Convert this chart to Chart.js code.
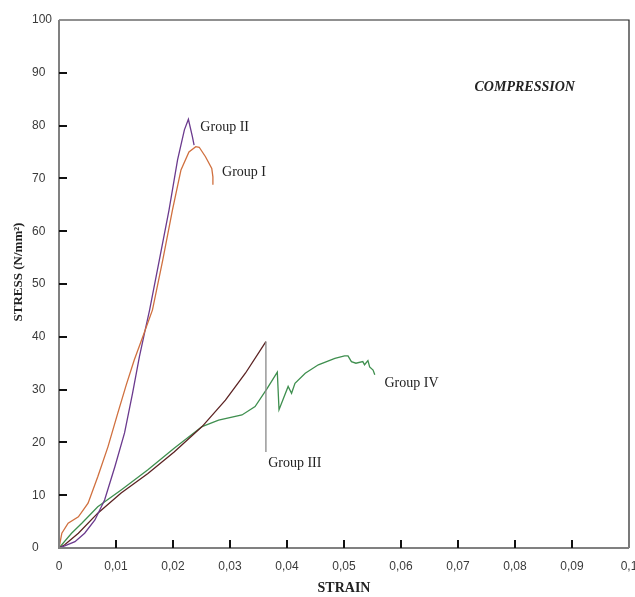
<!DOCTYPE html>
<html>
<head>
<meta charset="utf-8">
<script src="https://cdn.jsdelivr.net/npm/chart.js@4.4.0/dist/chart.umd.min.js"></script>
<style>
  html, body { margin: 0; padding: 0; background: #fff; }
  #wrap { width: 635px; height: 597px; }
</style>
</head>
<body>
<div id="wrap"><canvas id="chart"></canvas></div>
<script>
// values
const strainI  = [0, 0.0005, 0.0016, 0.0034, 0.0051, 0.0068, 0.0086, 0.0103, 0.0118, 0.0132, 0.0147, 0.0164, 0.0182, 0.0199, 0.0214, 0.0228, 0.0240, 0.0246, 0.0257, 0.0268, 0.0270, 0.0270];
const stressI  = [0, 2.8, 4.7, 5.9, 8.5, 13.5, 19.2, 25.5, 30.9, 35.6, 40, 45.1, 54.5, 64, 71.6, 75, 76, 75.9, 74.1, 71.9, 70.3, 68.8];

const strainII = [0, 0.001, 0.0028, 0.0045, 0.0063, 0.008, 0.0098, 0.0115, 0.0129, 0.0141, 0.015, 0.0159, 0.0176, 0.0193, 0.0208, 0.022, 0.0227, 0.0234, 0.0237];
const stressII = [0, 0.4, 1.2, 2.8, 5.3, 9.1, 15.4, 21.8, 29.3, 36.2, 40.7, 45.1, 54.5, 64, 73.5, 79.2, 81.2, 77.9, 76.3];

const strainIII = [0, 0.001, 0.0034, 0.0068, 0.0109, 0.0156, 0.0202, 0.0251, 0.0292, 0.0327, 0.0363, 0.0363];
const stressIII = [0, 0.6, 2.8, 6.6, 10.4, 14.1, 18.2, 23, 28, 33.1, 39.1, 18.2];

const strainIV = [0, 0.0022, 0.004, 0.0068, 0.0109, 0.0156, 0.0202, 0.0251, 0.028, 0.0321, 0.0344, 0.0365, 0.0383, 0.0386, 0.0402, 0.0408, 0.0414, 0.0432, 0.0455, 0.0484, 0.0501, 0.0507, 0.0513, 0.0521, 0.0533, 0.0536, 0.0542, 0.0545, 0.0551, 0.0554];
const stressIV = [0, 2.8, 4.7, 7.8, 11, 14.8, 18.9, 23, 24.2, 25.2, 26.8, 30.2, 33.3, 26.2, 30.6, 29.3, 31.2, 33.1, 34.7, 35.9, 36.4, 36.4, 35.3, 35, 35.3, 34.7, 35.5, 34.3, 33.7, 32.8];

const groupNames = ['Group I', 'Group II', 'Group III', 'Group IV'];
const strainTicks = [0, 0.01, 0.02, 0.03, 0.04, 0.05, 0.06, 0.07, 0.08, 0.09, 0.1];
const stressTicks = [0, 10, 20, 30, 40, 50, 60, 70, 80, 90, 100];

function pairs(xs, ys) {
  return xs.map(function(x, i) { return { x: x, y: ys[i] }; });
}

// where the group names sit, in data units
const notes = [
  { text: groupNames[1], x: 0.0248, y: 79.7 },
  { text: groupNames[0], x: 0.0286, y: 71.2 },
  { text: groupNames[2], x: 0.0367, y: 16.1 },
  { text: groupNames[3], x: 0.0571, y: 31.1 }
];

const deco = {
  id: 'deco',
  afterDraw: function(chart) {
    const ctx = chart.ctx;
    const a = chart.chartArea;
    const xs = chart.scales.x;
    const ys = chart.scales.y;
    ctx.save();

    // frame
    ctx.strokeStyle = '#222';
    ctx.lineWidth = 1.2;
    ctx.beginPath();
    ctx.moveTo(a.left, a.top);
    ctx.lineTo(a.right, a.top);
    ctx.lineTo(a.right, a.bottom);
    ctx.stroke();
    ctx.strokeStyle = '#808080';
    ctx.lineWidth = 2;
    ctx.beginPath();
    ctx.moveTo(a.left, a.top);
    ctx.lineTo(a.left, a.bottom);
    ctx.lineTo(a.right, a.bottom);
    ctx.stroke();

    // inward tick marks
    ctx.strokeStyle = '#111';
    ctx.lineWidth = 2;
    ctx.beginPath();
    strainTicks.slice(1, -1).forEach(function(v) {
      const px = Math.round(xs.getPixelForValue(v));
      ctx.moveTo(px, a.bottom);
      ctx.lineTo(px, a.bottom - 8);
    });
    stressTicks.slice(1, -1).forEach(function(v) {
      const py = Math.round(ys.getPixelForValue(v));
      ctx.moveTo(a.left, py);
      ctx.lineTo(a.left + 8, py);
    });
    ctx.stroke();

    // group names
    ctx.fillStyle = '#222';
    ctx.font = '14px "Liberation Serif", "Times New Roman", serif';
    ctx.textAlign = 'left';
    ctx.textBaseline = 'middle';
    notes.forEach(function(n) {
      ctx.fillText(n.text, xs.getPixelForValue(n.x), ys.getPixelForValue(n.y));
    });

    ctx.font = 'italic bold 14px "Liberation Serif", "Times New Roman", serif';
    ctx.fillText('COMPRESSION', xs.getPixelForValue(0.0729), ys.getPixelForValue(87.3));

    // y axis title
    ctx.translate(19, 272);
    ctx.rotate(-Math.PI / 2);
    ctx.textAlign = 'center';
    ctx.font = 'bold 13px "Liberation Serif", "Times New Roman", serif';
    ctx.fillText('STRESS (N/mm\u00B2)', 0, 0);
    ctx.restore();
  }
};

document.addEventListener('DOMContentLoaded', function() {
  const ctx = document.getElementById('chart').getContext('2d');
  const chart = new Chart(ctx, {
    type: 'line',
    data: {
      datasets: [{
        label: groupNames[0],
        data: pairs(strainI, stressI),
        borderColor: '#d0703f'
      }, {
        label: groupNames[1],
        data: pairs(strainII, stressII),
        borderColor: '#6b3a8e'
      }, {
        label: groupNames[2],
        data: pairs(strainIII, stressIII),
        borderColor: '#5b2222',
        segment: {
          borderColor: function(c) {
            return c.p0.parsed.x === c.p1.parsed.x ? '#8a8a8a' : undefined;
          }
        }
      }, {
        label: groupNames[3],
        data: pairs(strainIV, stressIV),
        borderColor: '#3f8f4f'
      }]
    },
    options: {
      responsive: true,
      maintainAspectRatio: false,
      animation: false,
      devicePixelRatio: 1,
      layout: { padding: { left: 32, right: 6, top: 20, bottom: 0 } },
      elements: {
        line: { borderWidth: 1.3, tension: 0, fill: false },
        point: { radius: 0, hoverRadius: 0 }
      },
      plugins: {
        legend: { display: false },
        tooltip: { enabled: false }
      },
      scales: {
        x: {
          type: 'linear',
          min: 0,
          max: 0.1,
          afterFit: function(s) { s.height = 49; s.paddingLeft = 0; s.paddingRight = 0; },
          afterBuildTicks: function(s) { s.ticks = strainTicks.map(function(v) { return { value: v }; }); },
          grid: { display: false, drawTicks: false },
          border: { display: false },
          ticks: {
            padding: 11,
            maxRotation: 0,
            autoSkip: false,
            color: '#3a3a3a',
            font: { family: '"Liberation Sans", Arial, sans-serif', size: 12 },
            callback: function(v) { return String(+v.toFixed(2)).replace('.', ','); }
          },
          title: {
            display: true,
            text: 'STRAIN',
            color: '#222',
            font: { family: '"Liberation Serif", "Times New Roman", serif', size: 14, weight: 'bold' },
            padding: { top: 0, bottom: 0 }
          }
        },
        y: {
          min: 0,
          max: 100,
          afterFit: function(s) { s.width = 27; },
          afterBuildTicks: function(s) { s.ticks = stressTicks.map(function(v) { return { value: v }; }); },
          grid: { display: false, drawTicks: false },
          border: { display: false },
          ticks: {
            crossAlign: 'far',
            color: '#3a3a3a',
            font: { family: '"Liberation Sans", Arial, sans-serif', size: 12 }
          }
        }
      }
    },
    plugins: [deco]
  });
});
</script>
</body>
</html>
